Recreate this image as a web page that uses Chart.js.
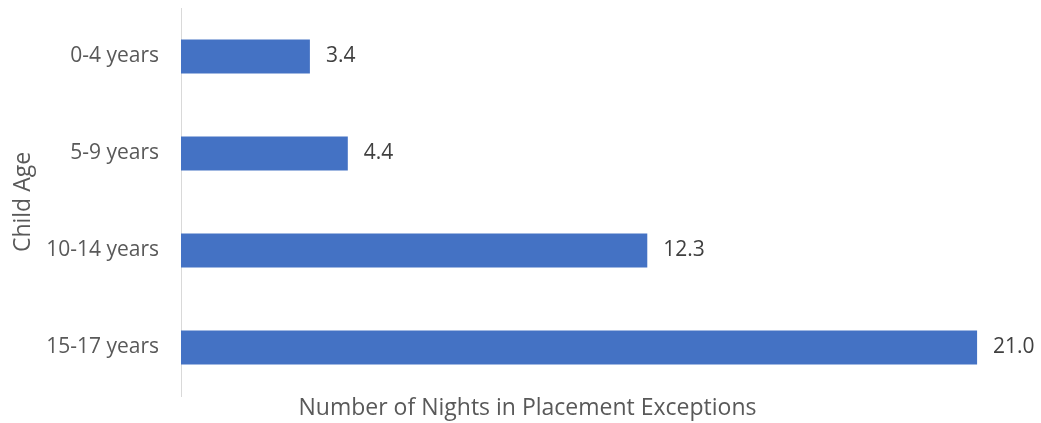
<!DOCTYPE html>
<html>
<head>
<meta charset="utf-8">
<script src="https://cdn.jsdelivr.net/npm/chart.js@4"></script>
<style>
html,body{margin:0;padding:0;background:#fff;}
#wrap{width:1041px;height:423px;position:relative;}
</style>
</head>
<body>
<div id="wrap"><canvas id="c"></canvas></div>
<script>
const categories = ['0-4 years', '5-9 years', '10-14 years', '15-17 years'];
const nights = [3.4, 4.4, 12.3, 21.0];
const xTitle = 'Number of Nights in Placement Exceptions';
const yTitle = 'Child Age';

const FONT = '"Open Sans", Lato, sans-serif';

const valueLabels = {
  id: 'valueLabels',
  afterDatasetsDraw(chart) {
    const ctx = chart.ctx;
    const meta = chart.getDatasetMeta(0);
    ctx.save();
    ctx.font = '21px ' + FONT;
    ctx.fillStyle = '#404040';
    ctx.textAlign = 'left';
    ctx.textBaseline = 'middle';
    meta.data.forEach((bar, i) => {
      ctx.fillText(nights[i].toFixed(1), bar.x + 16, bar.y);
    });
    ctx.restore();
  }
};

// x-axis title, centred as in the reference (slightly left of the plot centre)
const xTitlePlugin = {
  id: 'xTitlePlugin',
  afterDraw(chart) {
    const ctx = chart.ctx;
    ctx.save();
    ctx.font = '23px ' + FONT;
    ctx.fillStyle = '#595959';
    ctx.textAlign = 'center';
    ctx.textBaseline = 'alphabetic';
    ctx.fillText(xTitle, 527.5, 415);
    ctx.restore();
  }
};

new Chart(document.getElementById('c'), {
  type: 'bar',
  data: {
    labels: categories,
    datasets: [{
      data: nights,
      backgroundColor: '#4472C4',
      borderWidth: 0,
      barPercentage: 0.35,
      categoryPercentage: 1.0
    }]
  },
  options: {
    indexAxis: 'y',
    responsive: true,
    maintainAspectRatio: false,
    animation: false,
    layout: { padding: { top: 8, right: 26, left: 0, bottom: 0 } },
    plugins: { legend: { display: false }, tooltip: { enabled: false } },
    scales: {
      x: {
        min: 0,
        max: 22,
        grid: { display: false },
        border: { display: false },
        ticks: { display: false },
        title: { display: false, text: xTitle },
        afterFit(scale) { scale.height = 27; scale.paddingLeft = 0; scale.paddingRight = 0; }
      },
      y: {
        grid: { display: false, drawTicks: false },
        border: { display: true, color: '#d9d9d9', width: 1 },
        ticks: {
          color: '#595959',
          font: { family: FONT, size: 21 },
          padding: 22
        },
        title: {
          display: true,
          text: yTitle,
          color: '#595959',
          font: { family: FONT, size: 23 },
          padding: { top: 10, bottom: 0 }
        },
        afterFit(scale) { scale.width = 181; scale.paddingTop = 0; scale.paddingBottom = 0; }
      }
    }
  },
  plugins: [valueLabels, xTitlePlugin]
});
</script>
</body>
</html>
